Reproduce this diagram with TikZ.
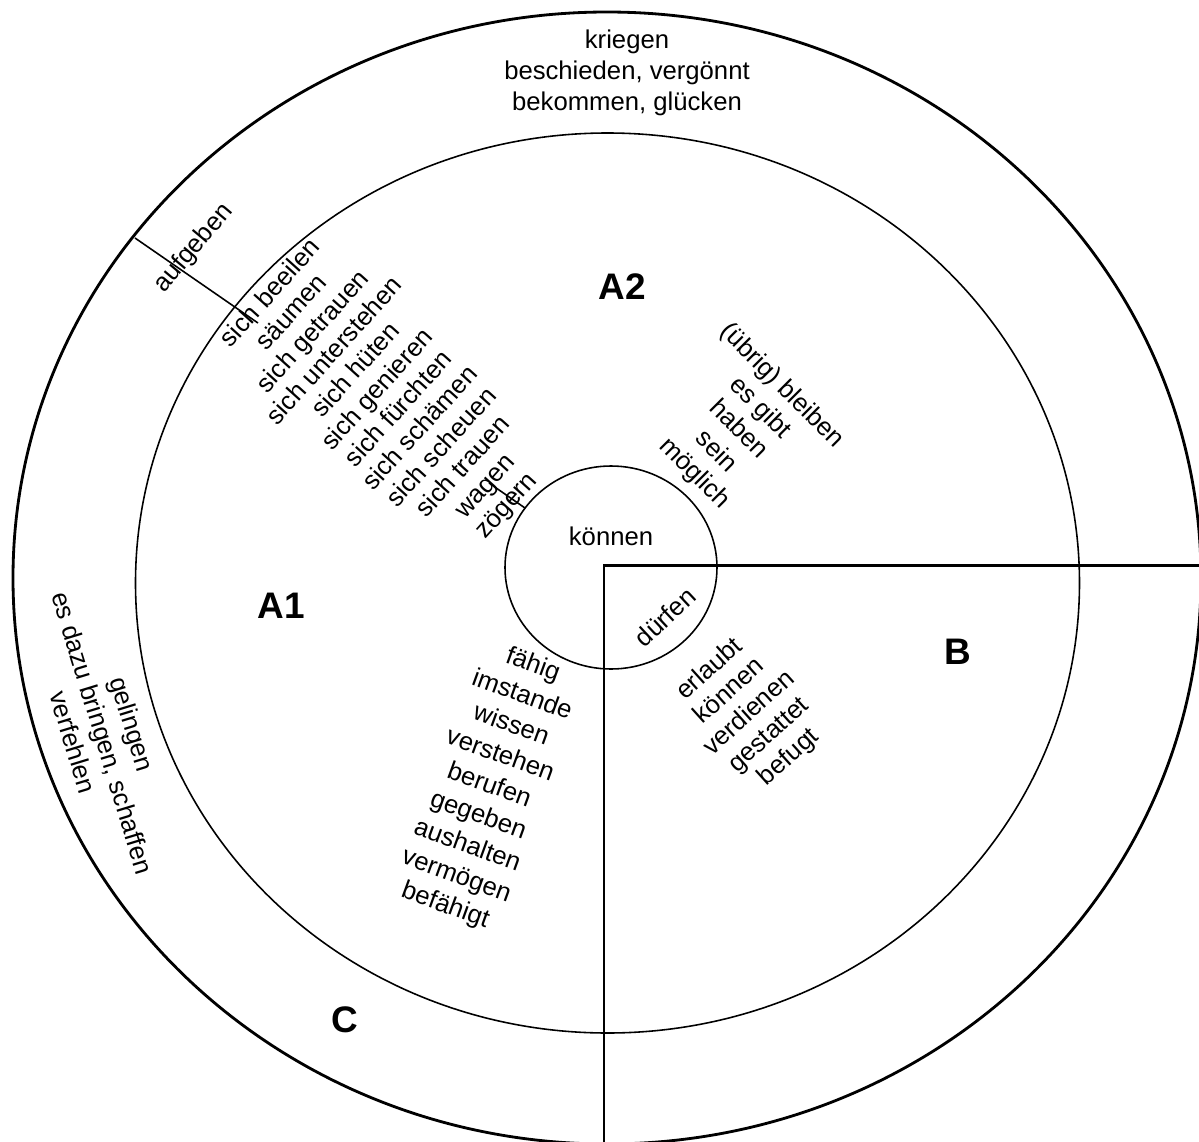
\documentclass[tikz,border=0pt]{standalone}
\usepackage{fontspec}
\setmainfont{Liberation Sans}
\begin{document}
\begin{tikzpicture}[x=0.01cm,y=-0.01cm,
	words/.style={align=center,inner sep=0pt,font=\fontsize{7.3}{8.8}\selectfont},
	area/.style={inner sep=0pt,font=\fontsize{10.5}{12}\selectfont\bfseries}]
	\useasboundingbox[fill=white] (0,0) rectangle (1199,1142);
	% circles
	\coordinate (outerc) at (607,578);
	\coordinate (midc) at (607.5,583);
	\coordinate (ctr) at (611,567.5);
	\draw[line width=0.8pt] (outerc) ellipse [x radius=594,y radius=566];
	\draw[line width=0.45pt] (midc) ellipse [x radius=472,y radius=450];
	\draw[line width=0.45pt] (ctr) ellipse [x radius=106,y radius=101.5];
	% sector B
	\coordinate (corner) at (604,565);
	\coordinate (east) at (1210,565);
	\coordinate (south) at (604,1150);
	\draw[line width=0.85pt] (east) -- (corner) -- (south);
	% ray through the left list
	\coordinate (rayA) at (135,238);
	\coordinate (rayB) at (258,323);
	\coordinate (rayC) at (489,483);
	\coordinate (rayD) at (525,508);
	\draw[line width=0.45pt] (rayA) -- (rayB);
	\draw[line width=0.45pt] (rayC) -- (rayD);
	% texts
	\node[words] (kriegen) at (627,73) {kriegen\\beschieden, vergönnt\\bekommen, glücken};
	\node[words,rotate=50] (aufgeben) at (194,248) {aufgeben};
	\node[words,rotate=48,font=\fontsize{7.3}{8.2}\selectfont] (zoegern) at (389,400)
		{sich beeilen\\säumen\\sich getrauen\\sich unterstehen\\sich hüten\\sich genieren\\sich fürchten\\sich schämen\\sich scheuen\\sich trauen\\wagen\\zögern};
	\node[words,rotate=-45] (bleiben) at (738,430) {(übrig) bleiben\\es gibt\\haben\\sein\\möglich};
	\node[words,rotate=-20,font=\fontsize{7.3}{9.1}\selectfont] (faehig) at (489,786)
		{fähig\\imstande\\wissen\\verstehen\\berufen\\gegeben\\aushalten\\vermögen\\befähigt};
	\node[words,rotate=43] (duerfen) at (665,617) {dürfen};
	\node[words,rotate=42,font=\fontsize{7.3}{8.4}\selectfont] (erlaubt) at (749.5,713.5) {erlaubt\\können\\verdienen\\gestattet\\befugt};
	\node[words,rotate=-73] (gelingen) at (103,733) {gelingen\\es dazu bringen, schaffen\\verfehlen};
	\node[words] (koennen) at (611,536) {können};
	% areas
	\node[area] (A1) at (281,606) {A1};
	\node[area] (A2) at (622,287) {A2};
	\node[area] (B) at (958,652) {B};
	\node[area] (C) at (345,1020) {C};
\end{tikzpicture}
\end{document}
